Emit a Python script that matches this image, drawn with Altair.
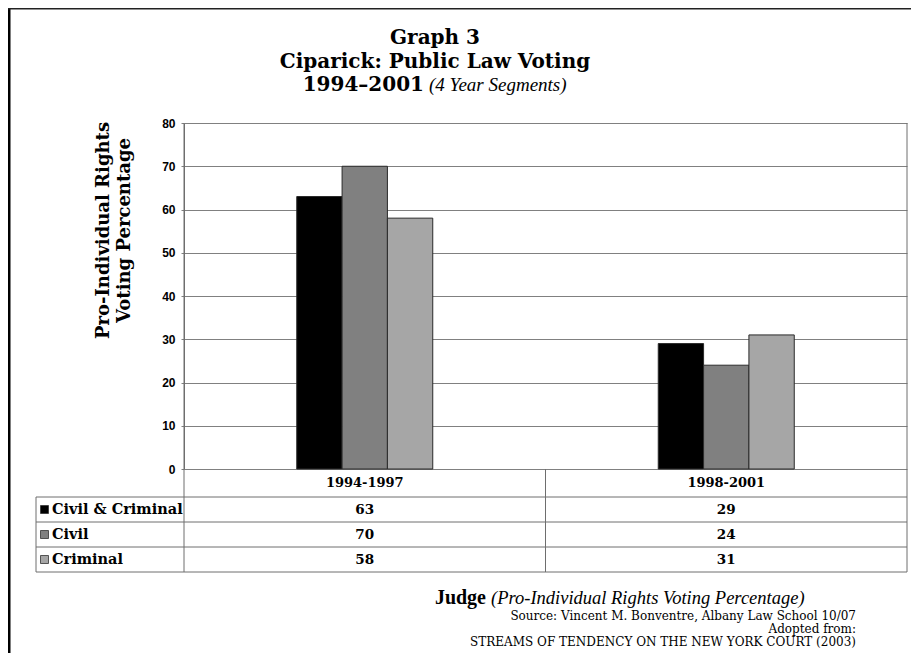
import altair as alt
import pandas as pd

# ---------------- data ----------------
periods = ["1994-1997", "1998-2001"]
series = ["Civil & Criminal", "Civil", "Criminal"]
civil_criminal = [63, 29]
civil = [70, 24]
criminal = [58, 31]
y_ticks = [0, 10, 20, 30, 40, 50, 60, 70, 80]
colors = ["#000000", "#808080", "#a6a6a6"]

title_lines = ["Graph 3", "Ciparick: Public Law Voting"]
title_year = "1994\u20132001"
title_year_note = "(4 Year Segments)"
y_title = ["Pro-Individual Rights", "Voting Percentage"]
x_title_bold = "Judge"
x_title_italic = "(Pro-Individual Rights Voting Percentage)"
source_lines = [
    "Source: Vincent M. Bonventre, Albany Law School 10/07",
    "Adopted from:",
    "STREAMS OF TENDENCY ON THE NEW YORK COURT (2003)",
]

rows = []
for i, p in enumerate(periods):
    for s, vals in zip(series, [civil_criminal, civil, criminal]):
        rows.append({"period": p, "series": s, "value": vals[i]})
df = pd.DataFrame(rows)
series_df = pd.DataFrame({"series": series})
period_df = pd.DataFrame({"period": periods})
one = pd.DataFrame({"k": [0]})

# ---------------- layout ----------------
W, H = 723, 346
SERIF = "DejaVu Serif"
LSERIF = "Liberation Serif"
LINE = "#6e6e6e"
BAND = W / 2
GROUP = 136

x_enc = alt.X("period:N", scale=alt.Scale(domain=periods, paddingInner=0, paddingOuter=0), axis=None)
color_enc = alt.Color("series:N", scale=alt.Scale(domain=series, range=colors), legend=None)
row_enc = alt.Y("series:N", scale=alt.Scale(type="point", domain=series, range=[386.5, 436.5], padding=0), axis=None)

bars = alt.Chart(df).mark_bar(stroke="#2a2a2a", strokeWidth=1).encode(
    x=x_enc,
    xOffset=alt.XOffset(
        "series:N",
        scale=alt.Scale(domain=series, paddingInner=0, paddingOuter=0,
                        range=[(BAND - GROUP) / 2, (BAND + GROUP) / 2]),
    ),
    y=alt.Y(
        "value:Q",
        scale=alt.Scale(domain=[0, 80], nice=False),
        axis=alt.Axis(
            values=y_ticks, format="d", grid=True, gridColor="#808080", gridWidth=1,
            domain=True, domainColor=LINE, domainWidth=1,
            ticks=True, tickSize=3, tickColor="#808080",
            labelFont="Liberation Sans", labelFontWeight="bold", labelFontSize=12,
            labelColor="#000", labelPadding=6,
            title=y_title, titleFont=SERIF, titleFontSize=18, titleFontWeight="bold",
            titleColor="#000", titleX=-81, titleY=107, titleAngle=270,
            titleAlign="center", titleBaseline="middle", titleLineHeight=21,
        ),
    ),
    color=color_enc,
)


def rule(x, x2, y, y2, color=LINE, width=1):
    return alt.Chart(one).mark_rule(color=color, strokeWidth=width).encode(
        x=alt.value(x), x2=alt.value(x2), y=alt.value(y), y2=alt.value(y2)
    )


def label(text, x, y, size, font=SERIF, weight="normal", style="normal", align="center"):
    return alt.Chart(one).mark_text(
        text=text, font=font, fontSize=size, fontWeight=weight, fontStyle=style,
        align=align, baseline="middle", color="#000",
    ).encode(x=alt.value(x), y=alt.value(y))


# table grid
decor = [
    rule(0, 0, 0, 449),          # axis line continues into table
    rule(W, W, 0, 449),          # right border
    rule(W / 2, W / 2, H, 449),  # column divider
    rule(-148, -148, 374, 449),  # table left edge
    rule(-148, W, 374, 374),
    rule(-148, W, 399, 399),
    rule(-148, W, 424, 424),
    rule(-148, W, 449, 449),
    # outer frame
    rule(-175, -175, -115, 530, "#000", 3),
    rule(-176, 727, -115, -115, "#222", 3),
]

header = alt.Chart(period_df).mark_text(
    font=SERIF, fontSize=13, fontWeight="bold", color="#000", baseline="middle"
).encode(x=x_enc, y=alt.value(360), text="period:N")

cells = alt.Chart(df).mark_text(
    font=SERIF, fontSize=13.5, fontWeight="bold", color="#000", baseline="middle"
).encode(x=x_enc, y=row_enc, text="value:Q")

swatch = alt.Chart(series_df).mark_point(
    shape="square", size=64, filled=True, stroke="#333", strokeWidth=0.8, opacity=1
).encode(x=alt.value(-139.5), y=row_enc, fill=color_enc)

swatch_lbl = alt.Chart(series_df).mark_text(
    font=SERIF, fontSize=14.5, fontWeight="bold", color="#000", align="left", baseline="middle"
).encode(x=alt.value(-132), y=row_enc, text="series:N")

texts = [
    label(title_lines[0], 251, -85, 20, weight="bold"),
    label(title_lines[1], 251, -61, 20, weight="bold"),
    label(title_year, 240, -38, 20, weight="bold", align="right"),
    label(title_year_note, 245, -38, 19, font=LSERIF, style="italic", align="left"),
    label(x_title_bold, 302, 475, 20, font=LSERIF, weight="bold", align="right"),
    label(x_title_italic, 307, 475, 18.5, font=LSERIF, style="italic", align="left"),
    label(source_lines[0], 672, 493, 12, align="right"),
    label(source_lines[1], 672, 506, 12, align="right"),
    label(source_lines[2], 672, 519, 12, align="right"),
]

chart = alt.layer(
    bars, *decor, header, cells, swatch, swatch_lbl, *texts
).resolve_scale(y="independent").properties(
    width=W, height=H,
    padding={"left": 176, "top": 115, "right": 4, "bottom": 184},
    autosize=alt.AutoSizeParams(type="none"),
    background="white",
).configure_view(stroke=None)

chart.save("out.html", embed_options={"renderer": "svg", "actions": False})
